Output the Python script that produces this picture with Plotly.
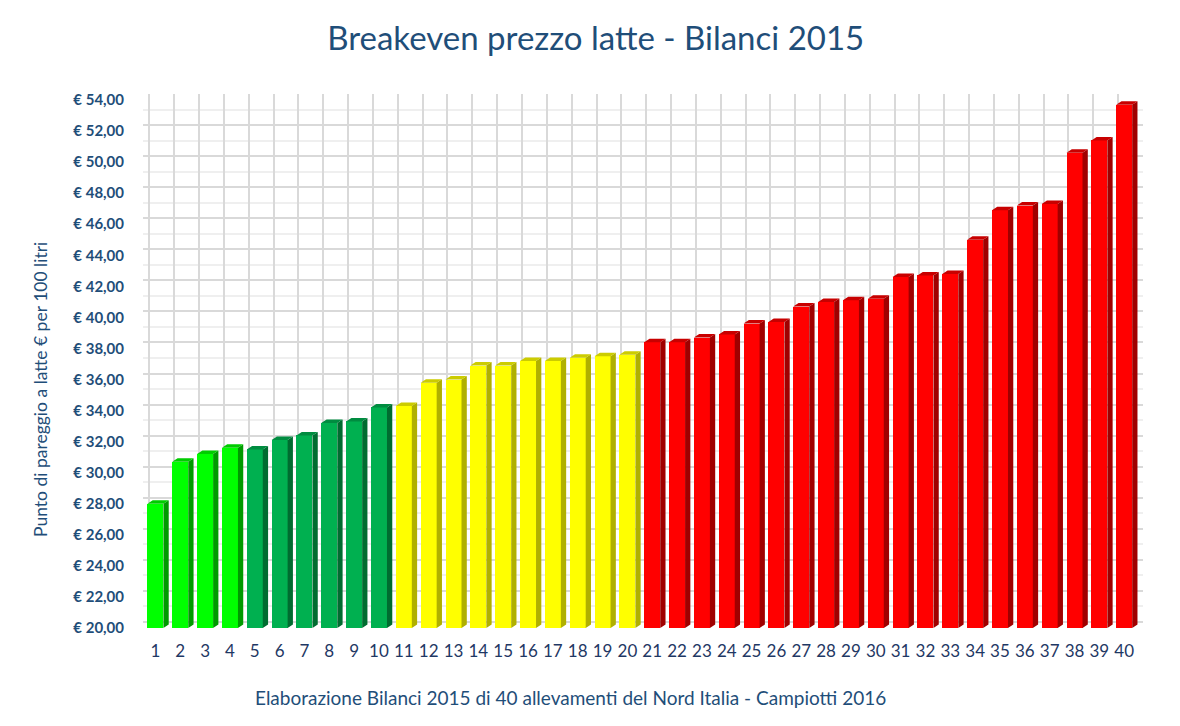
import plotly.graph_objects as go

# ---------------- data ----------------
categories = [str(i) for i in range(1, 41)]
values = [28.0, 30.7, 31.2, 31.6, 31.5, 32.1, 32.4, 33.2, 33.3, 34.2,
          34.3, 35.8, 36.0, 36.9, 36.9, 37.2, 37.2, 37.4, 37.5, 37.6,
          38.4, 38.4, 38.7, 38.9, 39.6, 39.7, 40.7, 41.0, 41.1, 41.2,
          42.6, 42.7, 42.8, 45.0, 46.9, 47.2, 47.3, 50.6, 51.4, 53.7]
groups = ["verde chiaro"] * 4 + ["verde"] * 6 + ["giallo"] * 10 + ["rosso"] * 20
y_ticks = list(range(20, 55, 2))
y_tick_labels = [f"€ {v},00" for v in y_ticks]

# ---------------- styles ----------------
front_colors = {"verde chiaro": "#00FF00", "verde": "#00B050", "giallo": "#FFFF00", "rosso": "#FF0000"}
top_colors = {"verde chiaro": "#00CC00", "verde": "#008C40", "giallo": "#CCCC00", "rosso": "#C80000"}
side_colors = {"verde chiaro": "#009A00", "verde": "#006C30", "giallo": "#B0B000", "rosso": "#A00000"}

TEXT_BLUE = "#1F4E79"
FONT = "Lato"
Y_MIN, Y_MAX = 20, 54
PX_PER_CAT = 24.84
PX_PER_UNIT = 15.53
BAR_HALF = 0.322
DEPTH_X = 5.3 / PX_PER_CAT
DEPTH_Y = 3.5 / PX_PER_UNIT
WALL_X = 6.4 / PX_PER_CAT
WALL_Y = 6.0 / PX_PER_UNIT

positions = list(range(1, len(values) + 1))

fig = go.Figure()

# grid carrier (back wall)
fig.add_trace(go.Scatter(x=[], y=[], xaxis="x2", yaxis="y2", showlegend=False, hoverinfo="skip"))

# front faces
fig.add_trace(go.Bar(
    x=positions, y=[v - Y_MIN for v in values], base=Y_MIN,
    width=2 * BAR_HALF,
    marker=dict(color=[front_colors[g] for g in groups], line=dict(width=0)),
    customdata=values,
    hovertemplate="%{x}: € %{customdata:.2f}<extra></extra>",
    showlegend=False,
))

# side and top faces (3D look), computed from the values
for g in front_colors:
    sx, sy, tx, ty = [], [], [], []
    for p, v, gg in zip(positions, values, groups):
        if gg != g:
            continue
        r = p + BAR_HALF
        l = p - BAR_HALF
        sx += [r, r + DEPTH_X, r + DEPTH_X, r, r, None]
        sy += [Y_MIN, Y_MIN + DEPTH_Y, v + DEPTH_Y, v, Y_MIN, None]
        tx += [l, r, r + DEPTH_X, l + DEPTH_X, l, None]
        ty += [v, v, v + DEPTH_Y, v + DEPTH_Y, v, None]
    fig.add_trace(go.Scatter(x=sx, y=sy, fill="toself", fillcolor=side_colors[g], mode="lines",
                             line=dict(width=0, color=side_colors[g]), hoverinfo="skip", showlegend=False))
    fig.add_trace(go.Scatter(x=tx, y=ty, fill="toself", fillcolor=top_colors[g], mode="lines",
                             line=dict(width=0, color=top_colors[g]), hoverinfo="skip", showlegend=False))

fig.update_layout(
    width=1180, height=726,
    margin=dict(l=143, r=37, t=94, b=98),
    paper_bgcolor="white", plot_bgcolor="white",
    showlegend=False,
    bargap=0,
    title=dict(text="Breakeven prezzo latte - Bilanci 2015", x=595.7 / 1180, xanchor="center",
               yref="container", y=1 - 38 / 726, yanchor="middle",
               font=dict(family=FONT, size=33, color=TEXT_BLUE)),
    xaxis=dict(range=[0.5, len(values) + 0.5 + WALL_X], tickvals=positions, ticktext=categories,
               showgrid=False, zeroline=False, showline=False, ticks="",
               ticklabelstandoff=11,
               tickfont=dict(family=FONT, size=17, color="#1F3864")),
    yaxis=dict(range=[Y_MIN, Y_MAX + WALL_Y], tickvals=y_ticks, ticktext=y_tick_labels,
               showgrid=False, zeroline=False, showline=False, ticks="",
               ticklabelstandoff=18,
               tickfont=dict(family=FONT, size=15, color=TEXT_BLUE, weight="bold")),
    xaxis2=dict(overlaying="x", anchor="y2", range=[0.5 - WALL_X, len(values) + 0.5],
                tickvals=[p + 0.5 for p in range(0, len(values) + 1)],
                showticklabels=False, ticks="", showgrid=True, gridcolor="#D9D9D9", gridwidth=2,
                zeroline=False, showline=False),
    yaxis2=dict(overlaying="y", anchor="x2", range=[Y_MIN - WALL_Y, Y_MAX],
                tickvals=y_ticks, showticklabels=False, ticks="",
                showgrid=True, gridcolor="#D9D9D9", gridwidth=2, zeroline=False, showline=False,
                minor=dict(tickvals=list(range(21, 54, 2)), showgrid=True, gridcolor="#EFEFEF", gridwidth=2)),
    annotations=[
        dict(text="Punto di pareggio a latte € per 100 litri", textangle=-90,
             xref="paper", yref="paper", x=(40 - 143) / 1000, y=(628 - 390) / 534,
             xanchor="center", yanchor="middle", showarrow=False,
             font=dict(family=FONT, size=17.5, color=TEXT_BLUE)),
        dict(text="Elaborazione Bilanci 2015 di 40 allevamenti del Nord Italia - Campiotti 2016",
             xref="paper", yref="paper", x=(570 - 143) / 1000, y=(628 - 697) / 534,
             xanchor="center", yanchor="middle", showarrow=False,
             font=dict(family=FONT, size=19, color=TEXT_BLUE)),
    ],
)

fig.write_html("out.html")
